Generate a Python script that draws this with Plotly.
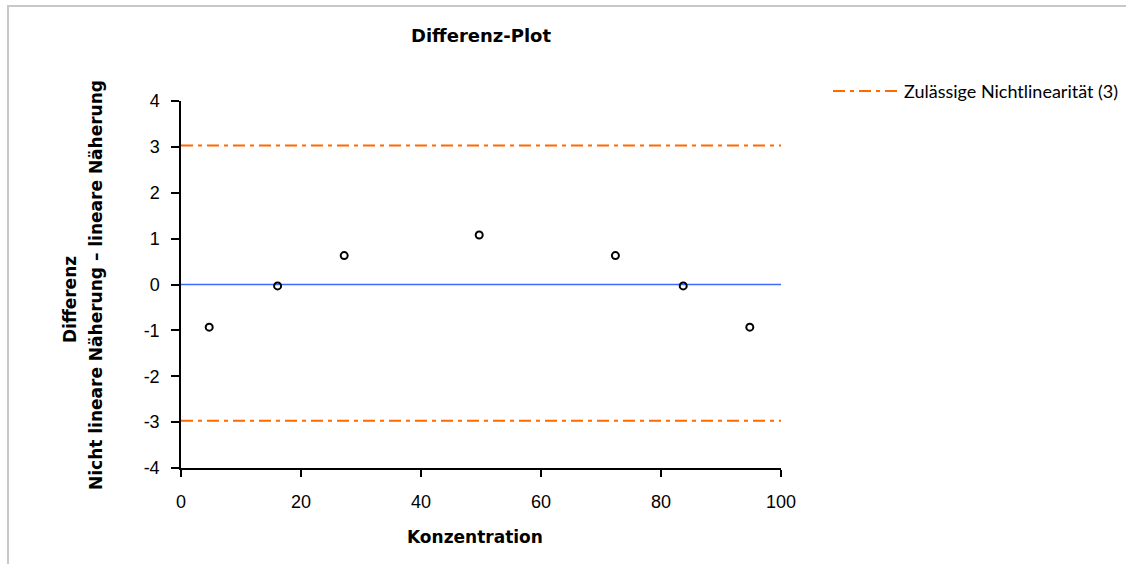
import plotly.graph_objects as go

# Data
konzentration = [4.7, 16.1, 27.2, 49.7, 72.4, 83.7, 94.8]
differenz = [-0.93, -0.03, 0.63, 1.08, 0.63, -0.03, -0.93]
limit_upper = 3.03
limit_lower = -2.97
x_range = [0, 100]
x_ticks = [0, 20, 40, 60, 80, 100]
y_ticks = [-4, -3, -2, -1, 0, 1, 2, 3, 4]
y_ticklabels = ["-4", "-3", "-2", "-1", "0", "1", "2", "3", "4"]
legend_label = "Zulässige Nichtlinearität (3)"

W, H = 1126, 564
L, R, T, B = 181, 781, 101, 468

orange = "#FF6A00"
dash = "12px,5px,4px,5px"
bold_font = "DejaVu Sans, sans-serif"

fig = go.Figure()
fig.add_trace(go.Scatter(x=x_range, y=[limit_upper, limit_upper], mode="lines",
                         line=dict(color=orange, width=2, dash=dash),
                         name=legend_label, showlegend=False, hoverinfo="skip"))
fig.add_trace(go.Scatter(x=x_range, y=[limit_lower, limit_lower], mode="lines",
                         line=dict(color=orange, width=2, dash=dash),
                         showlegend=False, hoverinfo="skip"))
fig.add_trace(go.Scatter(x=x_range, y=[0, 0], mode="lines",
                         line=dict(color="#3D6BFF", width=1.5),
                         showlegend=False, hoverinfo="skip"))
fig.add_trace(go.Scatter(x=konzentration, y=differenz, mode="markers",
                         marker=dict(symbol="circle-open", size=7, color="black",
                                     line=dict(width=2, color="black")),
                         showlegend=False))

pw = R - L
ph = B - T
def px_x(p):
    return (p - L) / pw
def px_y(p):
    return (B - p) / ph

fig.update_layout(
    width=W, height=H,
    margin=dict(l=L, r=W - R, t=T, b=H - B),
    paper_bgcolor="white", plot_bgcolor="white",
    font=dict(family="Liberation Sans, Arial, sans-serif", size=18, color="black"),
    xaxis=dict(range=x_range, tickvals=x_ticks, ticks="outside", ticklen=7,
               tickcolor="black", tickwidth=1.5, showline=True, linecolor="black", linewidth=1.5,
               showgrid=False, zeroline=False, tickfont=dict(size=18), ticklabelstandoff=10),
    yaxis=dict(range=[-4, 4], tickvals=y_ticks, ticktext=y_ticklabels, ticks="outside",
               ticklen=8, tickcolor="black", tickwidth=1.5, showline=True, linecolor="black",
               linewidth=1.5, showgrid=False, zeroline=False, tickfont=dict(size=18),
               ticklabelstandoff=8),
    showlegend=False,
    shapes=[
        dict(type="rect", xref="paper", yref="paper",
             x0=px_x(8), x1=px_x(1135), y0=px_y(575), y1=px_y(6),
             line=dict(color="#C8C8C8", width=2), fillcolor="rgba(0,0,0,0)", layer="below"),
        # legend sample line
        dict(type="line", xref="paper", yref="paper",
             x0=px_x(833), x1=px_x(898), y0=px_y(91), y1=px_y(91),
             line=dict(color=orange, width=2, dash=dash)),
    ],
    annotations=[
        dict(text="<b>Differenz-Plot</b>", xref="paper", yref="paper",
             x=0.5, y=px_y(36), xanchor="center", yanchor="middle", showarrow=False,
             font=dict(family=bold_font, size=18)),
        dict(text="<b>Konzentration</b>", xref="paper", yref="paper",
             x=px_x(475), y=px_y(537), xanchor="center", yanchor="middle", showarrow=False,
             font=dict(family=bold_font, size=17)),
        dict(text="<b>Differenz</b>", xref="paper", yref="paper",
             x=px_x(70), y=px_y(300), xanchor="center", yanchor="middle", showarrow=False,
             textangle=-90, font=dict(family=bold_font, size=17)),
        dict(text="<b>Nicht lineare Näherung – lineare Näherung</b>", xref="paper", yref="paper",
             x=px_x(96), y=px_y(285), xanchor="center", yanchor="middle", showarrow=False,
             textangle=-90, font=dict(family=bold_font, size=17)),
        dict(text=legend_label, xref="paper", yref="paper",
             x=px_x(902), y=px_y(91), xanchor="left", yanchor="middle", showarrow=False,
             font=dict(family="Lato, sans-serif", size=18)),
    ],
)

fig.write_html("out.html", config={"displayModeBar": False},
               post_script="document.body.style.margin='0';document.body.style.overflow='hidden';")
